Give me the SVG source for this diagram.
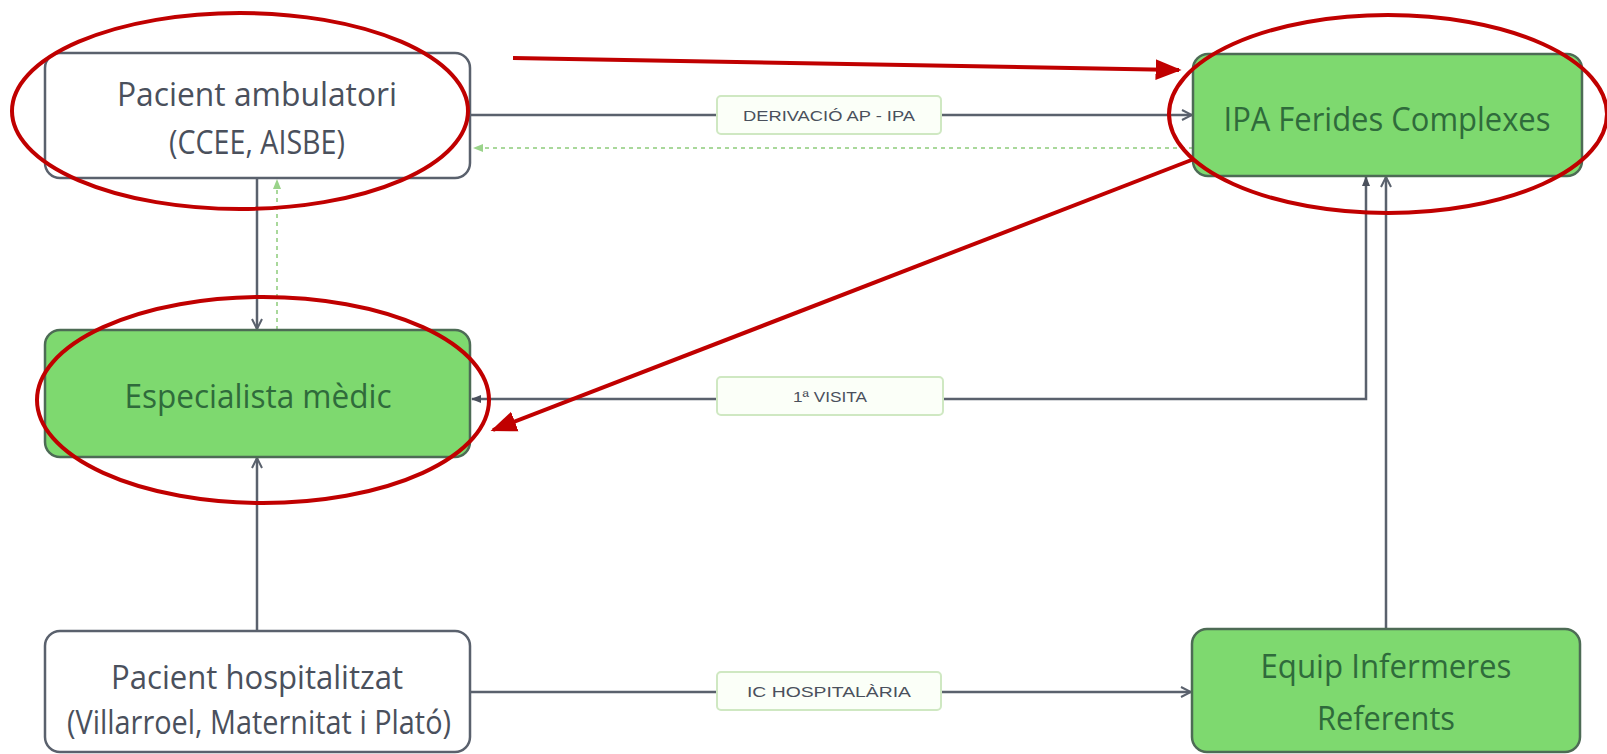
<svg xmlns="http://www.w3.org/2000/svg" width="1607" height="754" viewBox="0 0 1607 754">
<defs>
<style>
.box{fill:#ffffff;stroke:#5a616d;stroke-width:2.5}
.gbox{fill:#7ed96f;stroke:#4d6b55;stroke-width:2.5}
.t{font-family:"Open Sans","Liberation Sans",sans-serif;font-size:32px;fill:#4a505c;text-anchor:middle}
.gt{font-family:"Open Sans","Liberation Sans",sans-serif;font-size:32px;fill:#2f6b3b;text-anchor:middle}
.lbl{fill:#fbfff8;stroke:#cfe8c2;stroke-width:2}
.lt{font-family:"Liberation Sans",sans-serif;font-size:15px;fill:#4a505c;text-anchor:middle}
.ln{fill:none;stroke:#5a616d;stroke-width:2.5}
.dash{fill:none;stroke:#a9d89b;stroke-width:2;stroke-dasharray:4 4}
.red{fill:none;stroke:#c00000;stroke-width:4}
</style>
<marker id="chev" viewBox="0 0 12 12" refX="11" refY="6" markerWidth="12" markerHeight="12" markerUnits="userSpaceOnUse" orient="auto">
<path d="M1,1 L11,6 L1,11" fill="none" stroke="#5a616d" stroke-width="2"/>
</marker>
<marker id="tri" viewBox="0 0 10 10" refX="9" refY="5" markerWidth="10" markerHeight="10" markerUnits="userSpaceOnUse" orient="auto-start-reverse">
<path d="M0,1 L10,5 L0,9 z" fill="#4a505c"/>
</marker>
<marker id="gtri" viewBox="0 0 10 10" refX="9" refY="5" markerWidth="10" markerHeight="10" markerUnits="userSpaceOnUse" orient="auto">
<path d="M0,1 L10,5 L0,9 z" fill="#9ad38a"/>
</marker>
<marker id="rtri" viewBox="0 0 10 10" refX="9" refY="5" markerWidth="26" markerHeight="26" markerUnits="userSpaceOnUse" orient="auto">
<path d="M0,1 L10,5 L0,9 z" fill="#c00000"/>
</marker>
</defs>
<rect width="1607" height="754" fill="#ffffff"/>

<g id="connectors">
<line class="ln" x1="470" y1="115" x2="1192" y2="115" marker-end="url(#chev)"/>
<line class="dash" x1="1193" y1="148" x2="474" y2="148" marker-end="url(#gtri)"/>
<line class="ln" x1="257" y1="178" x2="257" y2="329" marker-end="url(#chev)"/>
<line class="dash" x1="277" y1="330" x2="277" y2="180" marker-end="url(#gtri)"/>
<line class="ln" x1="257" y1="631" x2="257" y2="458" marker-end="url(#chev)"/>
<polyline class="ln" points="1366,177 1366,399 472,399" marker-start="url(#tri)" marker-end="url(#tri)"/>
<line class="ln" x1="1386" y1="629" x2="1386" y2="177" marker-end="url(#chev)"/>
<line class="ln" x1="470" y1="692" x2="1191" y2="692" marker-end="url(#chev)"/>
<g id="label-derivacio">
<rect class="lbl" x="717" y="96" width="224" height="38" rx="4"/>
<text class="lt" x="829" y="121" textLength="172" lengthAdjust="spacingAndGlyphs">DERIVACIÓ AP - IPA</text>
</g>
<g id="label-visita">
<rect class="lbl" x="717" y="377" width="226" height="38" rx="4"/>
<text class="lt" x="830" y="402" textLength="74" lengthAdjust="spacingAndGlyphs">1ª VISITA</text>
</g>
<g id="label-ic">
<rect class="lbl" x="717" y="672" width="224" height="38" rx="4"/>
<text class="lt" x="829" y="697" textLength="164" lengthAdjust="spacingAndGlyphs">IC HOSPITALÀRIA</text>
</g>
</g>

<g id="node-ambulatori">
<rect class="box" x="45" y="53" width="425" height="125" rx="15"/>
<text class="t" x="257" y="106" textLength="280" lengthAdjust="spacingAndGlyphs">Pacient ambulatori</text>
<text class="t" x="257" y="154" textLength="176" lengthAdjust="spacingAndGlyphs">(CCEE, AISBE)</text>
</g>
<g id="node-ipa">
<rect class="gbox" x="1193" y="54" width="389" height="122" rx="15"/>
<text class="gt" x="1387" y="131" textLength="327" lengthAdjust="spacingAndGlyphs">IPA Ferides Complexes</text>
</g>
<g id="node-especialista">
<rect class="gbox" x="45" y="330" width="425" height="127" rx="15"/>
<text class="gt" x="258" y="408" textLength="267" lengthAdjust="spacingAndGlyphs">Especialista mèdic</text>
</g>
<g id="node-hospitalitzat">
<rect class="box" x="45" y="631" width="425" height="121" rx="15"/>
<text class="t" x="257" y="689" textLength="292" lengthAdjust="spacingAndGlyphs">Pacient hospitalitzat</text>
<text class="t" x="259" y="734" textLength="384" lengthAdjust="spacingAndGlyphs">(Villarroel, Maternitat i Plató)</text>
</g>
<g id="node-equip">
<rect class="gbox" x="1192" y="629" width="388" height="123" rx="15"/>
<text class="gt" x="1386" y="678" textLength="251" lengthAdjust="spacingAndGlyphs">Equip Infermeres</text>
<text class="gt" x="1386" y="730" textLength="138" lengthAdjust="spacingAndGlyphs">Referents</text>
</g>

<g id="annotations">
<ellipse class="red" cx="240" cy="111" rx="228" ry="98"/>
<ellipse class="red" cx="1388" cy="114" rx="219" ry="99"/>
<ellipse class="red" cx="263" cy="400" rx="226" ry="103"/>
<line class="red" x1="513" y1="58" x2="1179" y2="70" marker-end="url(#rtri)"/>
<line class="red" x1="1194" y1="159" x2="493" y2="430" marker-end="url(#rtri)"/>
</g>
</svg>
